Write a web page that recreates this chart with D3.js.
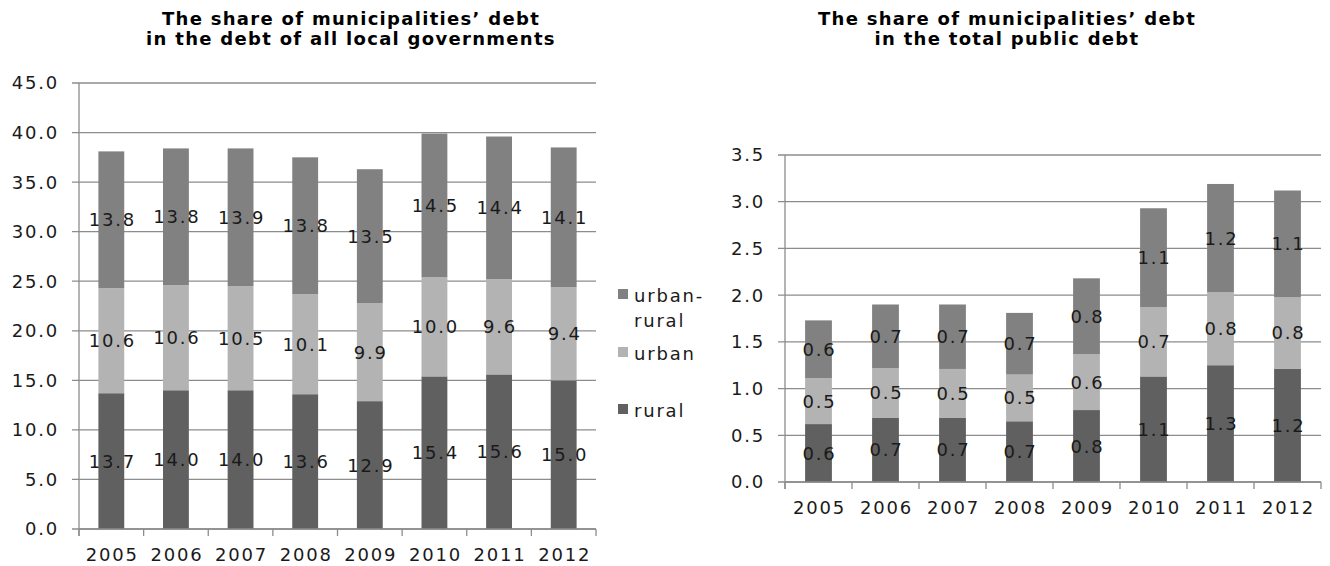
<!DOCTYPE html>
<html>
<head>
<meta charset="utf-8">
<script src="https://cdn.jsdelivr.net/npm/d3@7/dist/d3.min.js"></script>
<style>
  body { margin: 0; background: #fff; }
  svg text { font-family: "DejaVu Sans", Verdana, sans-serif; fill: #1a1a1a; }
  .tick-label { font-size: 18px; letter-spacing: 1.8px; }
  .title { font-size: 18px; font-weight: bold; letter-spacing: 1.3px; fill: #000; }
</style>
</head>
<body>
<div id="chart"></div>
<script>
// categories and series
const years = ['2005', '2006', '2007', '2008', '2009', '2010', '2011', '2012'];
const seriesKeys = ['rural', 'urban', 'urbanRural'];
const seriesColors = { rural: '#606060', urban: '#b3b3b3', urbanRural: '#818181' };

// share in the debt of all local governments (%)
const localRural      = [13.7, 14.0, 14.0, 13.6, 12.9, 15.4, 15.6, 15.0];
const localUrban      = [10.6, 10.6, 10.5, 10.1, 9.9, 10.0, 9.6, 9.4];
const localUrbanRural = [13.8, 13.8, 13.9, 13.8, 13.5, 14.5, 14.4, 14.1];
const localTicks = [0, 5, 10, 15, 20, 25, 30, 35, 40, 45];

// share in the total public debt (%)
const publicRural      = [0.62, 0.69, 0.69, 0.65, 0.77, 1.13, 1.25, 1.21];
const publicUrban      = [0.49, 0.53, 0.52, 0.50, 0.60, 0.74, 0.78, 0.77];
const publicUrbanRural = [0.62, 0.68, 0.69, 0.66, 0.81, 1.06, 1.16, 1.14];
const publicTicks = [0, 0.5, 1.0, 1.5, 2.0, 2.5, 3.0, 3.5];

const width = 1330, height = 566;
const gridColor = '#8c8c8c';

const svg = d3.select('#chart').append('svg')
  .attr('width', width)
  .attr('height', height);

function drawChart(opts) {
  const rows = years.map((y, i) => ({
    year: y,
    rural: opts.rural[i],
    urban: opts.urban[i],
    urbanRural: opts.urbanRural[i]
  }));

  const x = d3.scaleBand().domain(years).range([opts.left, opts.right]);
  const y = d3.scaleLinear().domain([0, d3.max(opts.ticks)]).range([opts.bottom, opts.top]);
  const barW = x.bandwidth() * 0.4;

  const g = svg.append('g');

  // gridlines
  g.selectAll('line.grid')
    .data(opts.ticks)
    .enter().append('line')
    .attr('class', 'grid')
    .attr('x1', opts.left - 7)
    .attr('x2', opts.right)
    .attr('y1', d => y(d))
    .attr('y2', d => y(d))
    .attr('stroke', gridColor)
    .attr('stroke-width', 1.3);

  // y tick labels
  g.selectAll('text.ylab')
    .data(opts.ticks)
    .enter().append('text')
    .attr('class', 'tick-label')
    .attr('x', opts.left - 20)
    .attr('y', d => y(d))
    .attr('dy', '0.36em')
    .attr('text-anchor', 'end')
    .text(d => d.toFixed(1));

  // y axis line
  g.append('line')
    .attr('x1', opts.left).attr('x2', opts.left)
    .attr('y1', y(d3.max(opts.ticks))).attr('y2', opts.bottom + 7)
    .attr('stroke', gridColor).attr('stroke-width', 1.3);

  // x tick marks at band edges
  const edges = years.map(d => x(d)).concat([opts.right]);
  g.selectAll('line.xtick')
    .data(edges)
    .enter().append('line')
    .attr('x1', d => d).attr('x2', d => d)
    .attr('y1', opts.bottom).attr('y2', opts.bottom + 7)
    .attr('stroke', gridColor).attr('stroke-width', 1.3);

  // stacked bars
  const stacked = d3.stack().keys(seriesKeys)(rows);
  const layer = g.selectAll('g.layer')
    .data(stacked)
    .enter().append('g')
    .attr('fill', d => seriesColors[d.key]);

  layer.selectAll('rect')
    .data(d => d)
    .enter().append('rect')
    .attr('x', d => x(d.data.year) + (x.bandwidth() - barW) / 2)
    .attr('width', barW)
    .attr('y', d => y(d[1]))
    .attr('height', d => y(d[0]) - y(d[1]));

  // bottom axis line drawn over bars
  g.append('line')
    .attr('x1', opts.left).attr('x2', opts.right)
    .attr('y1', opts.bottom).attr('y2', opts.bottom)
    .attr('stroke', gridColor).attr('stroke-width', 1.3);

  // data labels
  stacked.forEach(s => {
    g.selectAll(null)
      .data(s)
      .enter().append('text')
      .attr('class', 'tick-label')
      .attr('x', d => x(d.data.year) + x.bandwidth() / 2 + 1)
      .attr('y', d => y((d[0] + d[1]) / 2))
      .attr('dy', '0.36em')
      .attr('text-anchor', 'middle')
      .text(d => d.data[s.key].toFixed(1));
  });

  // x labels
  g.selectAll('text.xlab')
    .data(years)
    .enter().append('text')
    .attr('class', 'tick-label')
    .attr('x', d => x(d) + x.bandwidth() / 2 + 1)
    .attr('y', opts.bottom + 32)
    .attr('text-anchor', 'middle')
    .text(d => d);

  // title
  const t = g.append('text')
    .attr('class', 'title')
    .attr('text-anchor', 'middle')
    .attr('x', opts.titleX);
  opts.title.forEach((line, i) => {
    t.append('tspan')
      .attr('x', opts.titleX)
      .attr('y', opts.titleY + i * 20)
      .text(line);
  });
}

drawChart({
  rural: localRural, urban: localUrban, urbanRural: localUrbanRural,
  ticks: localTicks,
  left: 79, right: 596, top: 83, bottom: 529,
  title: ['The share of municipalities\u2019 debt', 'in the debt of all local governments'],
  titleX: 351, titleY: 25
});

drawChart({
  rural: publicRural, urban: publicUrban, urbanRural: publicUrbanRural,
  ticks: publicTicks,
  left: 785, right: 1321, top: 155, bottom: 482,
  title: ['The share of municipalities\u2019 debt', 'in the total public debt'],
  titleX: 1007, titleY: 25
});

// legend
const legendItems = [
  { key: 'urbanRural', lines: ['urban-', 'rural'], y: 289 },
  { key: 'urban', lines: ['urban'], y: 347 },
  { key: 'rural', lines: ['rural'], y: 404 }
];
const legend = svg.append('g');
legendItems.forEach(item => {
  legend.append('rect')
    .attr('x', 618).attr('y', item.y)
    .attr('width', 10).attr('height', 10)
    .attr('fill', seriesColors[item.key]);
  const txt = legend.append('text').attr('class', 'tick-label');
  item.lines.forEach((line, i) => {
    txt.append('tspan')
      .attr('x', 634)
      .attr('y', item.y + 13 + i * 25)
      .text(line);
  });
});
</script>
</body>
</html>
